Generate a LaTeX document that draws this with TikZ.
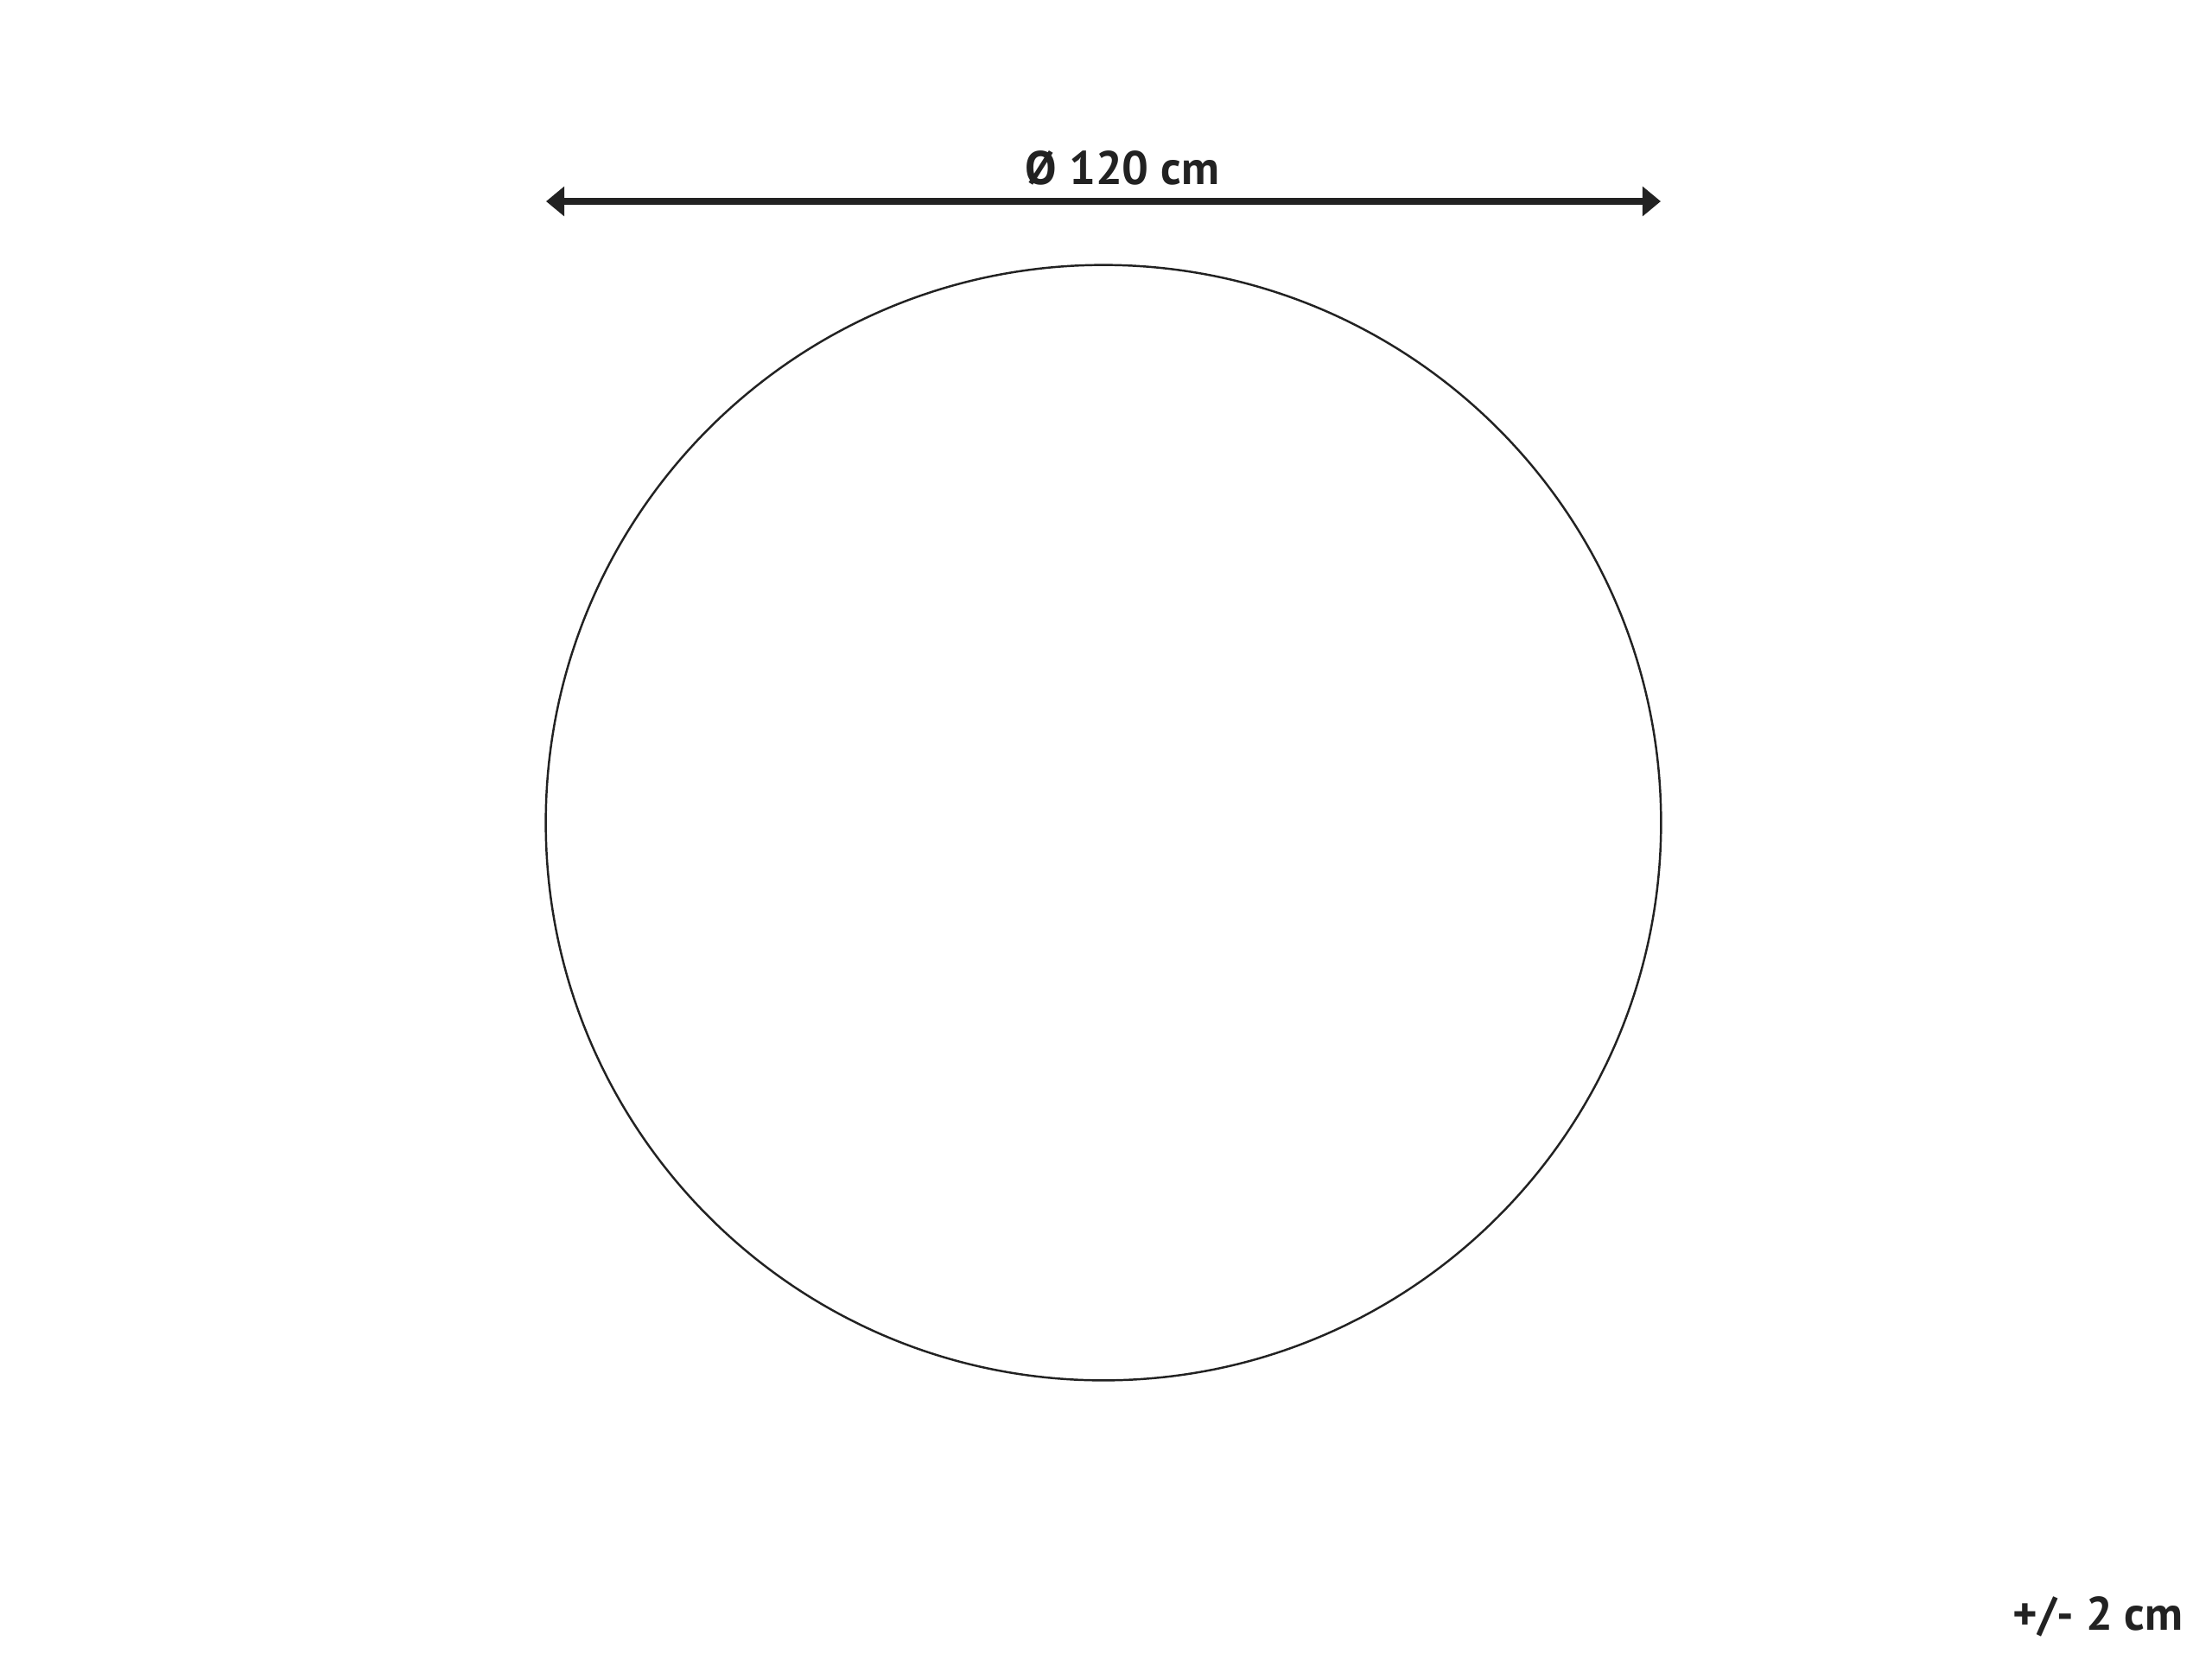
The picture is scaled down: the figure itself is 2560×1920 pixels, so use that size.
\documentclass[tikz,border=0pt]{standalone}
\usepackage{fontspec}
\setmainfont{PT Sans}
\usetikzlibrary{arrows.meta}
\definecolor{ink}{HTML}{222222}
\begin{document}
\begin{tikzpicture}[x=0.01cm,y=-0.01cm,
  dimline/.style={draw=ink,line width=2.5pt,{Triangle[length=6pt,width=9.5pt]}-{Triangle[length=6pt,width=9.5pt]}},
  lbl/.style={text=ink,font=\bfseries\fontsize{15.5}{18}\selectfont,inner sep=0pt}]
\useasboundingbox (0,0) rectangle (2560,1920);
\node[draw=ink,line width=0.7pt,circle,minimum size=12.9cm,inner sep=0pt] (rug) at (1277,952) {};
\coordinate (la) at (632,233);
\coordinate (ra) at (1922,233);
\draw[dimline] (la) -- (ra);
\node[lbl] (dia) at (1299,194) {Ø 120 cm};
\node[lbl,anchor=east] (tol) at (2527,1871) {+/- 2 cm};
\end{tikzpicture}
\end{document}
